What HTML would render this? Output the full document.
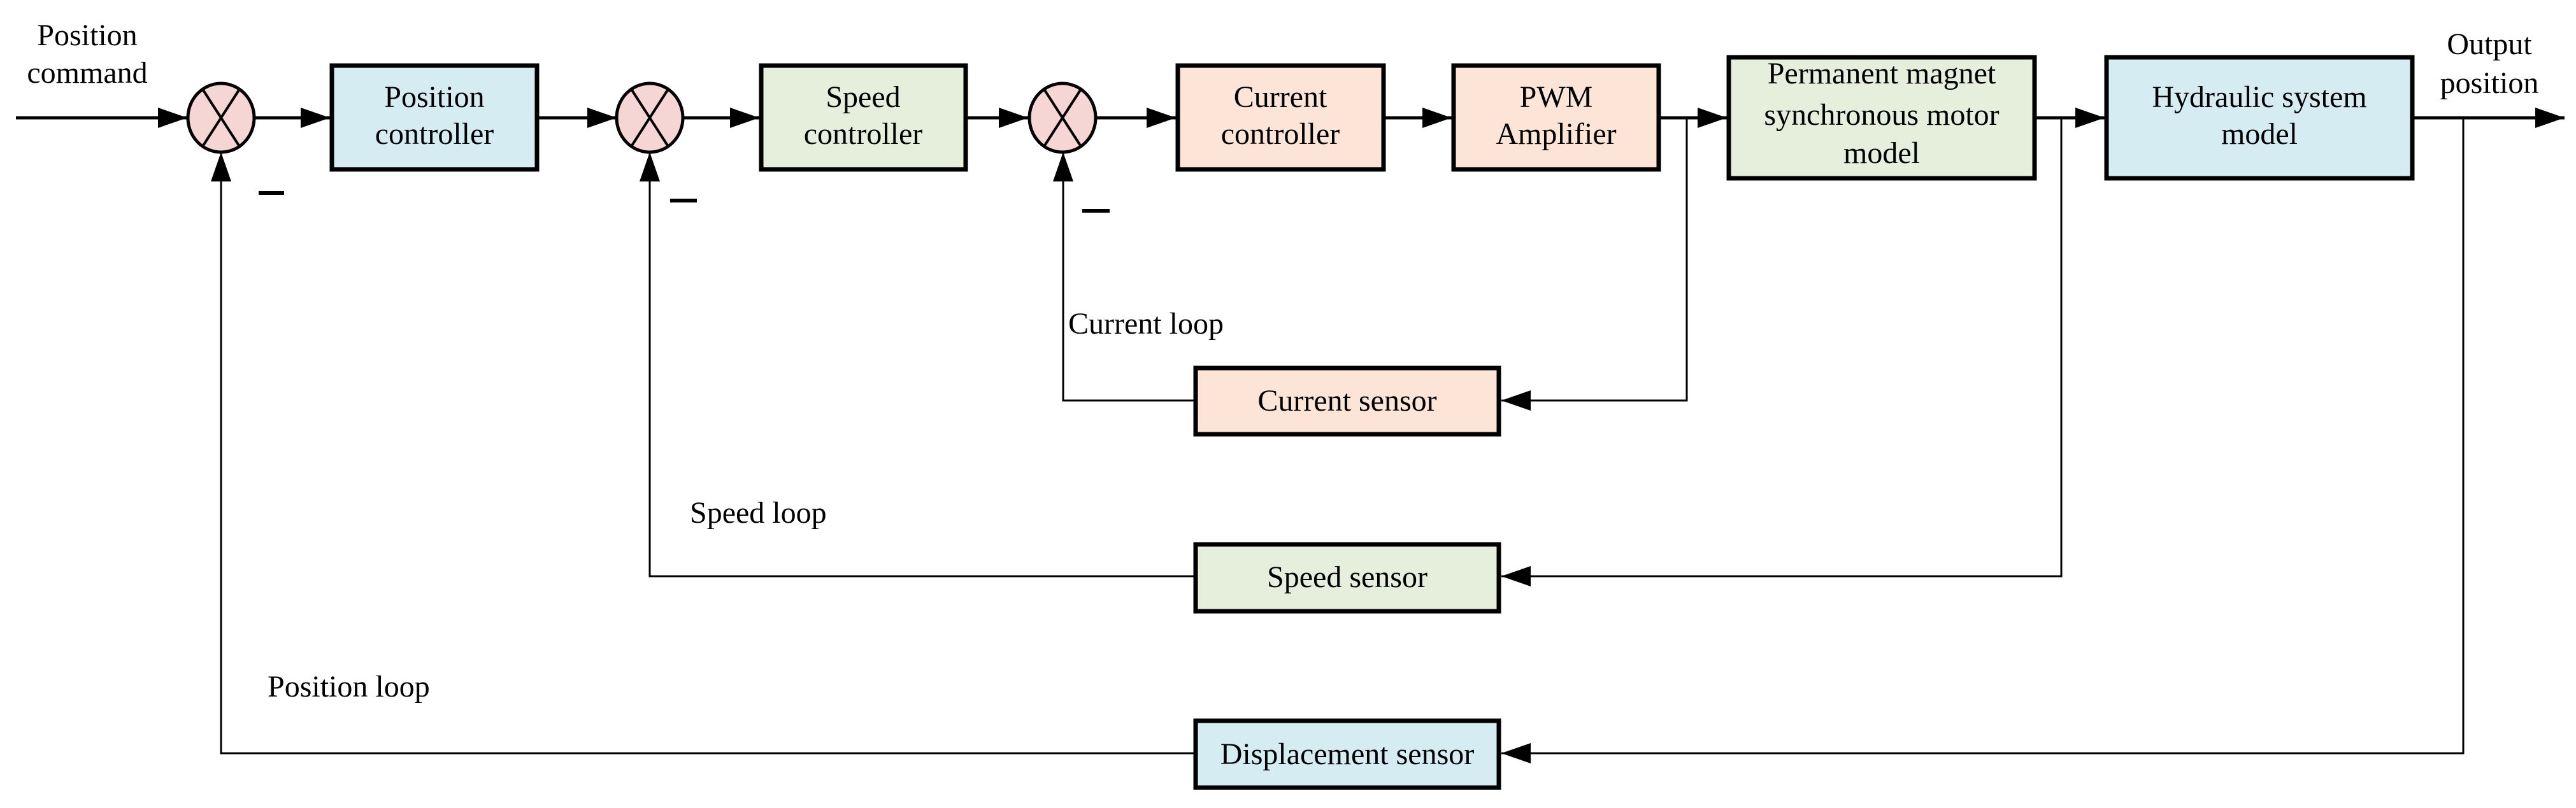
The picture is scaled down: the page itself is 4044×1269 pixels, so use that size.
<!DOCTYPE html>
<html><head><meta charset="utf-8"><style>
html,body{margin:0;padding:0;background:#fff;}
svg{display:block;}
text{font-family:"Liberation Serif",serif;font-size:48px;fill:#000;}
</style></head><body>
<svg width="4044" height="1269" viewBox="0 0 4044 1269" xmlns="http://www.w3.org/2000/svg">
<defs>
<marker id="a" markerWidth="46" markerHeight="32" refX="46" refY="16" markerUnits="userSpaceOnUse" orient="auto">
<path d="M0,0 L46,16 L0,32 Z" fill="#000"/></marker>
</defs>
<g stroke="#000" fill="none">
<!-- main forward path -->
<line x1="25" y1="185" x2="294" y2="185" stroke-width="5" marker-end="url(#a)"/>
<line x1="400" y1="185" x2="518" y2="185" stroke-width="5" marker-end="url(#a)"/>
<line x1="846" y1="185" x2="968" y2="185" stroke-width="5" marker-end="url(#a)"/>
<line x1="1072" y1="185" x2="1192" y2="185" stroke-width="5" marker-end="url(#a)"/>
<line x1="1519" y1="185" x2="1614" y2="185" stroke-width="5" marker-end="url(#a)"/>
<line x1="1721" y1="185" x2="1846" y2="185" stroke-width="5" marker-end="url(#a)"/>
<line x1="2175" y1="185" x2="2279" y2="185" stroke-width="5" marker-end="url(#a)"/>
<line x1="2607" y1="185" x2="2711" y2="185" stroke-width="5" marker-end="url(#a)"/>
<line x1="3197" y1="185" x2="3304" y2="185" stroke-width="5" marker-end="url(#a)"/>
<line x1="3790" y1="185" x2="4026" y2="185" stroke-width="5" marker-end="url(#a)"/>
<!-- feedback -->
<polyline points="2648,185 2648,629 2357,629" stroke-width="3" marker-end="url(#a)"/>
<polyline points="3236,185 3236,905 2357,905" stroke-width="3" marker-end="url(#a)"/>
<polyline points="3867,185 3867,1183 2357,1183" stroke-width="3" marker-end="url(#a)"/>
<polyline points="1874,629 1669,629 1669,239" stroke-width="3" marker-end="url(#a)"/>
<polyline points="1874,905 1020,905 1020,239" stroke-width="3" marker-end="url(#a)"/>
<polyline points="1874,1183 347,1183 347,239" stroke-width="3" marker-end="url(#a)"/>
</g>
<!-- summing junctions -->
<g stroke="#000" stroke-width="5" fill="#f6d6d4">
<ellipse cx="347" cy="185" rx="52" ry="54"/>
<ellipse cx="1020" cy="185" rx="52" ry="54"/>
<ellipse cx="1668" cy="185" rx="52" ry="54"/>
</g>
<g stroke="#000" stroke-width="4">
<line x1="318" y1="140" x2="376" y2="230"/><line x1="376" y1="140" x2="318" y2="230"/>
<line x1="991" y1="140" x2="1049" y2="230"/><line x1="1049" y1="140" x2="991" y2="230"/>
<line x1="1639" y1="140" x2="1697" y2="230"/><line x1="1697" y1="140" x2="1639" y2="230"/>
<line x1="406" y1="303" x2="446" y2="303" stroke-width="6"/>
<line x1="1052" y1="315" x2="1094" y2="315" stroke-width="6"/>
<line x1="1699" y1="331" x2="1742" y2="331" stroke-width="6"/>
</g>
<!-- boxes -->
<g stroke="#000" stroke-width="7">
<rect x="521" y="103" width="322" height="163" fill="#d5ecf3"/>
<rect x="1195" y="103" width="321" height="163" fill="#e6efdc"/>
<rect x="1849" y="103" width="323" height="163" fill="#fce5d6"/>
<rect x="2282" y="103" width="322" height="163" fill="#fce5d6"/>
<rect x="2714" y="90" width="480" height="190" fill="#e6efdc"/>
<rect x="3307" y="90" width="480" height="190" fill="#d5ecf3"/>
<rect x="1877" y="578" width="476" height="104" fill="#fce5d6"/>
<rect x="1877" y="855" width="476" height="105" fill="#e6efdc"/>
<rect x="1877" y="1132" width="476" height="105" fill="#d5ecf3"/>
</g>
<g text-anchor="middle">
<text x="682" y="168">Position</text><text x="682" y="226">controller</text>
<text x="1355" y="168">Speed</text><text x="1355" y="226">controller</text>
<text x="2010" y="168">Current</text><text x="2010" y="226">controller</text>
<text x="2443" y="168">PWM</text><text x="2443" y="226">Amplifier</text>
<text x="2954" y="131">Permanent magnet</text><text x="2954" y="196">synchronous motor</text><text x="2954" y="256">model</text>
<text x="3547" y="168">Hydraulic system</text><text x="3547" y="226">model</text>
<text x="2115" y="645">Current sensor</text>
<text x="2115" y="922">Speed sensor</text>
<text x="2115" y="1200">Displacement sensor</text>
<text x="137" y="71">Position</text><text x="137" y="130">command</text>
<text x="3908" y="85">Output</text><text x="3908" y="146">position</text>
</g>
<text x="1677" y="524">Current loop</text>
<text x="1083" y="821">Speed loop</text>
<text x="420" y="1094">Position loop</text>
</svg>
</body></html>
